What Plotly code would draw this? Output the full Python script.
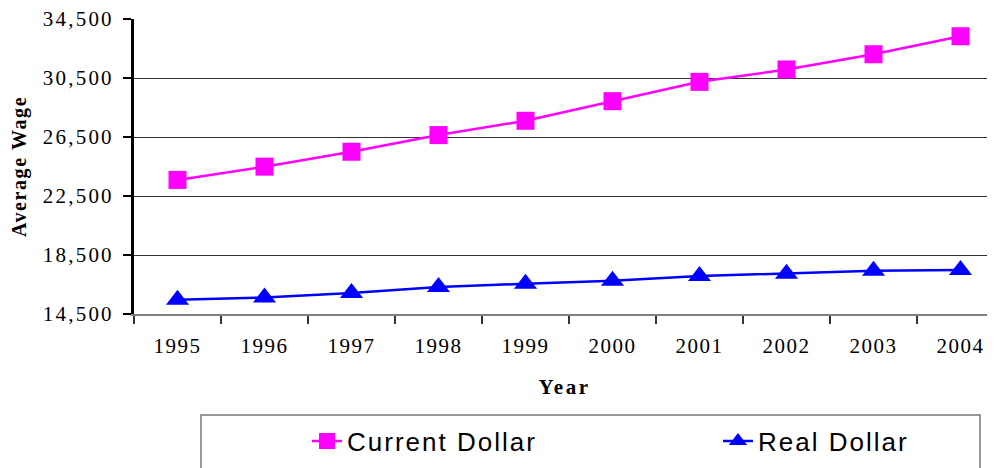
import plotly.graph_objects as go

years = [1995, 1996, 1997, 1998, 1999, 2000, 2001, 2002, 2003, 2004]
current_dollar = [23590, 24490, 25500, 26630, 27600, 28930, 30240, 31080, 32110, 33330]
real_dollar = [15470, 15620, 15920, 16330, 16550, 16750, 17070, 17230, 17430, 17480]
y_ticks = [14500, 18500, 22500, 26500, 30500, 34500]

SERIF = "Liberation Serif, Times New Roman, serif"
SANS = "Liberation Sans, Arial, sans-serif"

def spaced(text, px):
    return f'<span style="letter-spacing:{px}px">{text}</span>'

fig = go.Figure()
fig.add_trace(go.Scatter(
    x=years, y=current_dollar, name=spaced("Current Dollar", 2), mode="lines+markers",
    line=dict(color="#FF00FF", width=2.5),
    marker=dict(symbol="square", size=18, color="#FF00FF"),
    legend="legend",
))
fig.add_trace(go.Scatter(
    x=years, y=real_dollar, name=spaced("Real Dollar", 2), mode="lines+markers",
    line=dict(color="#0000FF", width=2.5),
    marker=dict(symbol="triangle-up", size=20, color="#0000FF"),
    legend="legend2",
))

# page body has an 8px margin; size the figure so it fills the window exactly
OFF = 8
W, H = 995 - OFF, 468 - OFF
L, R, T, B = 134 - OFF, 0, 19 - OFF, 468 - 314
pw = W - L - R
ph = H - T - B

def px_x(x):
    return (x - OFF - L) / pw

def px_y(y):
    return (H - B - (y - OFF)) / ph

fig.add_shape(type="rect", xref="paper", yref="paper",
              x0=px_x(201), x1=px_x(980), y0=px_y(490), y1=px_y(415),
              line=dict(color="#777777", width=1.5), fillcolor="rgba(0,0,0,0)")

leg_common = dict(
    orientation="h", xanchor="left", yanchor="middle",
    font=dict(family=SANS, size=26, color="black"),
    bgcolor="rgba(0,0,0,0)", borderwidth=0,
)

fig.update_layout(
    width=W, height=H,
    margin=dict(l=L, r=R, t=T, b=B, pad=0, autoexpand=False),
    paper_bgcolor="white", plot_bgcolor="white",
    showlegend=True,
    legend=dict(x=px_x(307), y=px_y(441), **leg_common),
    legend2=dict(x=px_x(718), y=px_y(441), **leg_common),
    xaxis=dict(
        range=[1994.5, 1994.5 + pw / 87.0],
        tickmode="array", tickvals=years,
        ticktext=[spaced(y, 1.5) for y in years],
        ticks="", showgrid=False, zeroline=False, automargin=False,
        showline=True, linecolor="#808080", linewidth=2,
        tickfont=dict(family=SERIF, size=21, color="black"),
        ticklabelstandoff=12, ticklabeloverflow="allow",
        minor=dict(tick0=1994.5, dtick=1, ticks="outside", ticklen=8,
                   tickwidth=1.5, tickcolor="#333333", showgrid=False),
        title=dict(text="<b>" + spaced("Year", 2.5) + "</b>",
                   font=dict(family=SERIF, size=21, color="black"), standoff=22),
    ),
    yaxis=dict(
        range=[14500, 34500],
        tickmode="array", tickvals=y_ticks,
        ticktext=[spaced(f"{v:,}", 2.2) for v in y_ticks],
        ticks="outside", ticklen=8, tickwidth=2, tickcolor="black",
        showline=True, linecolor="black", linewidth=3,
        showgrid=True, gridcolor="#333333", gridwidth=1,
        zeroline=False, automargin=False,
        ticklabelstandoff=5, ticklabeloverflow="allow",
        tickfont=dict(family=SERIF, size=21, color="black"),
        title=dict(text="<b>" + spaced("Average Wage", 1.6) + "</b>",
                   font=dict(family=SERIF, size=20, color="black"), standoff=23),
    ),
)

fig.write_html("out.html")
